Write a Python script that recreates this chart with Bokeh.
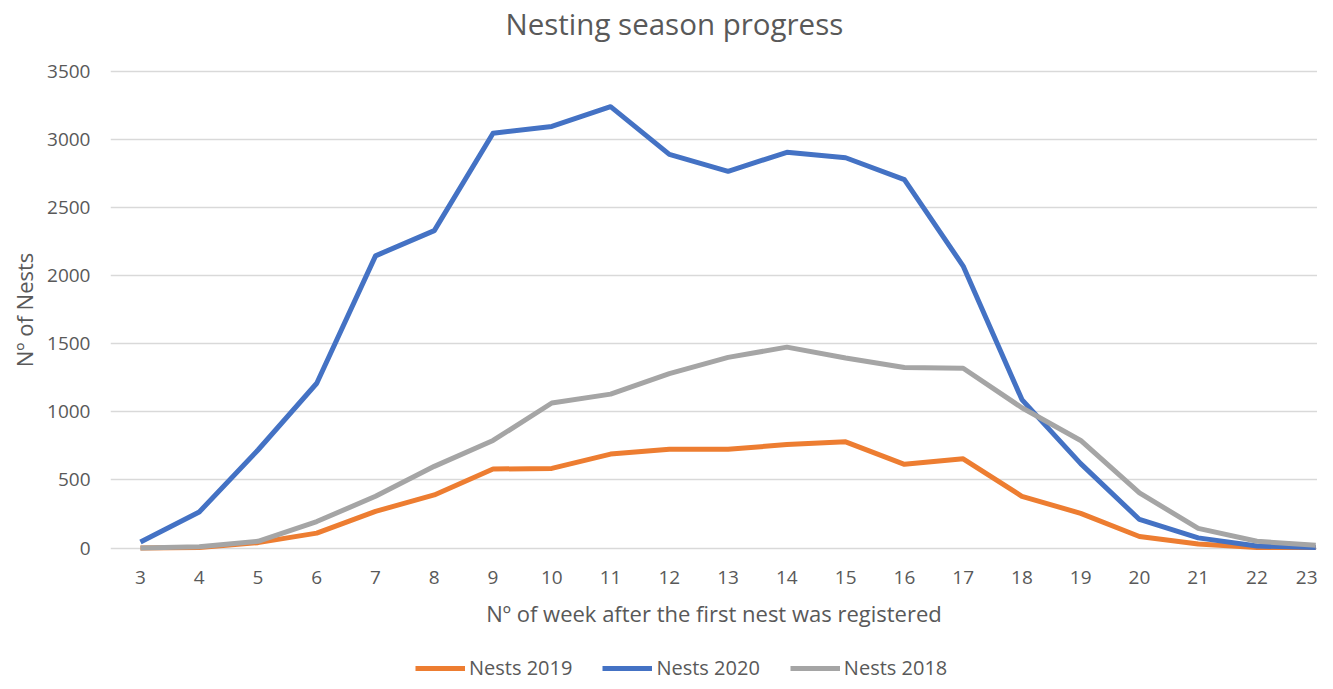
from bokeh.plotting import figure
from bokeh.models import Range1d, Legend, LegendItem, FixedTicker, Title
from bokeh.layouts import column
from bokeh.embed import file_html
from bokeh.resources import INLINE

weeks = list(range(3, 24))
nests_2019 = [0, 5, 40, 110, 270, 390, 580, 585, 690, 725, 725, 760, 780, 615, 655, 380, 255, 85, 30, 5, 5]
nests_2020 = [45, 265, 720, 1210, 2145, 2330, 3045, 3095, 3240, 2890, 2765, 2905, 2865, 2705, 2070, 1090, 620, 210, 75, 15, 5]
nests_2018 = [0, 10, 50, 195, 380, 600, 790, 1065, 1130, 1280, 1400, 1475, 1395, 1325, 1320, 1030, 790, 405, 145, 50, 20]
y_ticks = [0, 500, 1000, 1500, 2000, 2500, 3000, 3500]
series = [("Nests 2019", nests_2019, "#ED7D31"),
          ("Nests 2020", nests_2020, "#4472C4"),
          ("Nests 2018", nests_2018, "#A5A5A5")]

FONT = "Open Sans"
TXT = "#595959"

p = figure(width=1317, height=630, output_backend="svg", toolbar_location=None,
           x_range=Range1d(2.49, 23.03), y_range=Range1d(-25, 3520),
           min_border_left=110, min_border_right=0, min_border_top=68, min_border_bottom=78)
p.outline_line_color = None
p.background_fill_color = "white"

# main title (outermost panel)
p.title.text = "Nesting season progress"
p.title.align = "left"
p.title.offset = 395
p.title.vertical_align = "bottom"
p.title.standoff = 0
p.title.text_font = FONT
p.title.text_font_size = "29.5px"
p.title.text_font_style = "normal"
p.title.text_color = TXT

# thin spacer between the chart title and the plot area
p.add_layout(Title(text=" ", text_font_size="1px", standoff=22), "above")

for name, vals, col in series:
    p.line(weeks, vals, line_color=col, line_width=5, line_join="round")

for ax in (p.xaxis[0], p.yaxis[0]):
    ax.axis_line_color = None
    ax.major_tick_line_color = None
    ax.minor_tick_line_color = None
    ax.major_label_text_font = FONT
    ax.major_label_text_font_size = "19px"
    ax.major_label_text_color = TXT
    ax.axis_label_text_font = FONT
    ax.axis_label_text_font_size = "22px"
    ax.axis_label_text_font_style = "normal"
    ax.axis_label_text_color = TXT

p.xaxis.ticker = FixedTicker(ticks=weeks)
p.yaxis.ticker = FixedTicker(ticks=y_ticks)
p.xaxis.major_label_standoff = 13
p.yaxis.major_label_standoff = 14
p.xaxis.axis_label = "Nº of week after the first nest was registered"
p.yaxis.axis_label = "Nº of Nests"
p.xaxis.axis_label_standoff = 11
p.yaxis.axis_label_standoff = 5

p.xgrid.grid_line_color = None
p.ygrid.grid_line_color = "#D9D9D9"
p.ygrid.grid_line_width = 1.5

# legend strip below the chart (its renderers are hidden; only the legend shows)
q = figure(width=1317, height=51, output_backend="svg", toolbar_location=None,
           x_axis_location=None, y_axis_location=None,
           x_range=Range1d(2.49, 23.03), y_range=Range1d(-25, 3520),
           min_border=0)
q.outline_line_color = None
q.xgrid.grid_line_color = None
q.ygrid.grid_line_color = None
items = []
for name, vals, col in series:
    r = q.line(weeks, vals, line_color=col, line_width=5)
    r.visible = False
    items.append(LegendItem(label=name, renderers=[r]))

legend = Legend(items=items, orientation="horizontal", location=(305, 0),
                glyph_width=50, glyph_height=16, label_standoff=4, spacing=30,
                padding=0, margin=0, border_line_color=None, background_fill_alpha=0,
                inactive_fill_alpha=0,
                label_text_font=FONT, label_text_font_size="20px", label_text_color=TXT)
q.add_layout(legend, "center")

layout = column(p, q, spacing=0)
open("out.html", "w").write(file_html(layout, INLINE))
